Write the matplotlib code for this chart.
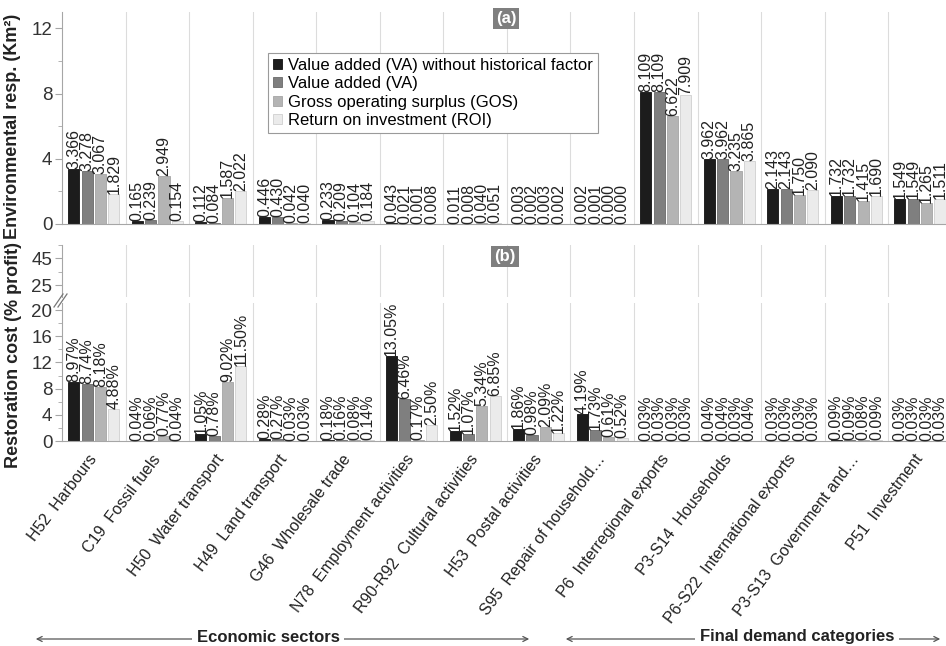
import numpy as np
import matplotlib
matplotlib.use('Agg')
import matplotlib.pyplot as plt
from matplotlib.lines import Line2D
from matplotlib.patches import FancyArrowPatch

plt.rcParams['font.family'] = ['Liberation Sans', 'DejaVu Sans']

categorias = ['H52  Harbours', 'C19  Fossil fuels', 'H50  Water transport',
              'H49  Land transport', 'G46  Wholesale trade',
              'N78  Employment activities', 'R90-R92  Cultural activities',
              'H53  Postal activities', 'S95  Repair of household…',
              'P6  Interregional exports', 'P3-S14  Households',
              'P6-S22  International exports', 'P3-S13  Government and…',
              'P51  Investment']
series = ['Value added (VA) without historical factor', 'Value added (VA)',
          'Gross operating surplus (GOS)', 'Return on investment (ROI)']

# (a) responsabilidade ambiental (Km2)
resp_va_sem_hist = [3.366, 0.165, 0.112, 0.446, 0.233, 0.043, 0.011, 0.003, 0.002,
                    8.109, 3.962, 2.143, 1.732, 1.549]
resp_va = [3.278, 0.239, 0.084, 0.430, 0.209, 0.021, 0.008, 0.002, 0.001,
           8.109, 3.962, 2.143, 1.732, 1.549]
resp_gos = [3.067, 2.949, 1.587, 0.042, 0.104, 0.001, 0.040, 0.003, 0.000,
            6.622, 3.235, 1.750, 1.415, 1.265]
resp_roi = [1.829, 0.154, 2.022, 0.040, 0.184, 0.008, 0.051, 0.002, 0.000,
            7.909, 3.865, 2.090, 1.690, 1.511]

# (b) custo de restauracao (% lucro)
custo_va_sem_hist = [8.97, 0.04, 1.05, 0.28, 0.18, 13.05, 1.52, 1.86, 4.19,
                     0.03, 0.04, 0.03, 0.09, 0.03]
custo_va = [8.74, 0.06, 0.78, 0.27, 0.16, 6.46, 1.07, 0.98, 1.73,
            0.03, 0.04, 0.03, 0.09, 0.03]
custo_gos = [8.18, 0.77, 9.02, 0.03, 0.08, 0.17, 5.34, 2.09, 0.61,
             0.03, 0.03, 0.03, 0.08, 0.03]
custo_roi = [4.88, 0.04, 11.50, 0.03, 0.14, 2.50, 6.85, 1.22, 0.52,
             0.03, 0.04, 0.03, 0.09, 0.03]

cores = ['#1c1c1c', '#7f7f7f', '#b4b4b4', '#ebebeb']
bordas = ['#111111', '#6a6a6a', '#a5a5a5', '#cfcfcf']

W, H = 946, 646
fig = plt.figure(figsize=(W / 100, H / 100), dpi=100)


def caixa(x0, y0, x1, y1):
    # pixels (origem em cima) -> fracao da figura
    return [x0 / W, 1 - y1 / H, (x1 - x0) / W, (y1 - y0) / H]


axA = fig.add_axes(caixa(62, 12, W, 224))
axBt = fig.add_axes(caixa(62, 245, W, 297))
axB = fig.add_axes(caixa(62, 303, W, 441))

x = np.arange(len(categorias))
passo = 0.21
larg = 0.175
cinza = '#a6a6a6'

for ax in (axA, axBt, axB):
    ax.set_xlim(-0.5, 13.41)
    for k in range(13):
        ax.axvline(k + 0.5, color='#dcdcdc', lw=0.8, zorder=0)
    ax.spines['top'].set_visible(False)
    ax.spines['right'].set_visible(False)
    ax.spines['left'].set_color(cinza)
    ax.spines['bottom'].set_color(cinza)
    ax.tick_params(axis='y', which='major', length=5, color=cinza, labelsize=13.5,
                   labelcolor='#333333', pad=2)
    ax.tick_params(axis='y', which='minor', length=3, color=cinza)
    ax.set_xticks([])

dadosA = [resp_va_sem_hist, resp_va, resp_gos, resp_roi]
dadosB = [custo_va_sem_hist, custo_va, custo_gos, custo_roi]

barras = []
for i in range(4):
    pos = x + (i - 1.5) * passo
    b = axA.bar(pos, dadosA[i], larg, color=cores[i], edgecolor=bordas[i], lw=0.6,
                label=series[i], zorder=2)
    barras.append(b)
    for xi, v in zip(pos, dadosA[i]):
        axA.text(xi, v, '%.3f' % v, rotation=90, ha='center', va='bottom',
                 fontsize=11.5, color='#222222', clip_on=False)
    axB.bar(pos, dadosB[i], larg, color=cores[i], edgecolor=bordas[i], lw=0.6, zorder=2)
    for xi, v in zip(pos, dadosB[i]):
        axB.text(xi, v, '%.2f%%' % v, rotation=90, ha='center', va='bottom',
                 fontsize=11.5, color='#222222', clip_on=False)

axA.set_ylim(0, 13)
axA.set_yticks([0, 4, 8, 12])
axA.set_yticks([2, 6, 10], minor=True)
axA.set_ylabel('Environmental resp. (Km²)', fontsize=13, fontweight='bold',
               color='#222222')
axA.yaxis.set_label_coords(-0.046, 0.46)

axBt.set_ylim(16, 55)
axBt.set_yticks([25, 45])
axBt.set_yticks([35, 55], minor=True)
axBt.spines['bottom'].set_visible(False)

axB.set_ylim(0, 21.07)
axB.set_yticks([0, 4, 8, 12, 16, 20])
axB.set_yticks([2, 6, 10, 14, 18], minor=True)
axB.set_xticks(x)
axB.set_xticklabels(categorias, rotation=53, ha='right', va='center',
                    rotation_mode='anchor', fontsize=11.5, color='#222222')
axB.tick_params(axis='x', length=0, pad=11)

fig.text(14 / W, 1 - 355 / H, 'Restoration cost (% profit)', rotation=90,
         ha='center', va='center', fontsize=13, fontweight='bold', color='#222222')

leg = axA.legend(handles=barras, loc='upper left', bbox_to_anchor=(0.233, 0.807),
                 borderaxespad=0, fontsize=12, fancybox=False, edgecolor='#9a9a9a',
                 handlelength=0.55, handleheight=0.55, handletextpad=0.35,
                 borderpad=0.3, labelspacing=0.2, framealpha=1)
leg.get_frame().set_linewidth(0.8)

# marcas de quebra do eixo
for dx in (0, 4):
    fig.add_artist(Line2D([(54 + dx) / W, (63 + dx) / W], [1 - 307 / H, 1 - 294 / H],
                          color='#777777', lw=0.9))

for txt, px, py in (('(a)', 506, 18), ('(b)', 505, 256)):
    fig.text(px / W, 1 - py / H, txt, ha='center', va='center', color='white',
             fontsize=12, fontweight='bold',
             bbox=dict(boxstyle='square,pad=0.18', fc='#7f7f7f', ec='none'))

# setas dos grupos
for x0, x1, xt, txt in ((33, 532, 268, 'Economic sectors'),
                        (563, 943, 797, 'Final demand categories')):
    fig.add_artist(FancyArrowPatch((x0 / W, 1 - 639 / H), (x1 / W, 1 - 639 / H),
                                   transform=fig.transFigure, arrowstyle='<->',
                                   mutation_scale=9, color='#555555', lw=0.9))
    fig.text(xt / W, 1 - 637 / H, txt, ha='center', va='center', fontsize=12,
             fontweight='bold', color='#222222',
             bbox=dict(boxstyle='square,pad=0.3', fc='white', ec='none'))

fig.savefig('out.png', dpi=100)
